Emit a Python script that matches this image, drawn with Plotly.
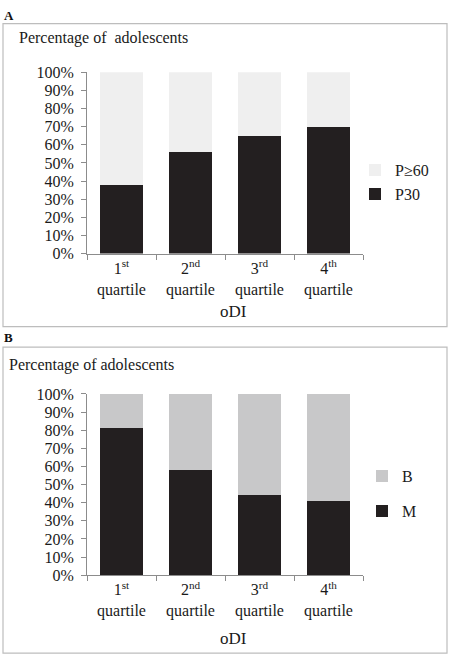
import plotly.graph_objects as go

categories = ["1<sup>st</sup><br>quartile", "2<sup>nd</sup><br>quartile",
              "3<sup>rd</sup><br>quartile", "4<sup>th</sup><br>quartile"]
a_p30 = [38, 56, 65, 70]
a_p60 = [62, 44, 35, 30]
b_m = [81, 58, 44, 41]
b_b = [19, 42, 56, 59]
y_ticks = [0, 10, 20, 30, 40, 50, 60, 70, 80, 90, 100]

W, H = 450, 666
DARK = "#231f20"
FONT = "Liberation Serif"
TXT = "#1a1a1a"

fig = go.Figure()
fig.add_trace(go.Bar(x=categories, y=a_p30, name="P30", marker=dict(color=DARK, line=dict(width=0)),
                     xaxis="x", yaxis="y", legend="legend", legendgroup="a1", legendrank=2))
fig.add_trace(go.Bar(x=categories, y=a_p60, name="P≥60", marker=dict(color="#efefef", line=dict(width=0)),
                     xaxis="x", yaxis="y", legend="legend", legendgroup="a2", legendrank=1))
fig.add_trace(go.Bar(x=categories, y=b_m, name="M", marker=dict(color=DARK, line=dict(width=0)),
                     xaxis="x2", yaxis="y2", legend="legend2", legendgroup="b1", legendrank=2))
fig.add_trace(go.Bar(x=categories, y=b_b, name="B", marker=dict(color="#c8c8c9", line=dict(width=0)),
                     xaxis="x2", yaxis="y2", legend="legend2", legendgroup="b2", legendrank=1))

def px_x(v):
    return v / W

def px_y(v):
    return 1 - v / H

xdom = [px_x(87), px_x(363)]
axis_common = dict(showline=True, linecolor="#8c8c8c", linewidth=1, ticks="outside",
                   tickcolor="#8c8c8c", ticklen=5, tickfont=dict(family=FONT, size=16, color=TXT),
                   showgrid=False, zeroline=False, fixedrange=True)
xcommon = dict(axis_common, tickson="boundaries")
ycommon = dict(axis_common, range=[0, 100], tickvals=y_ticks,
               ticktext=[f"{v}%" for v in y_ticks], ticklabelstandoff=4)

legend_common = dict(font=dict(family=FONT, size=16, color=TXT), bgcolor="rgba(0,0,0,0)",
                     traceorder="grouped", xanchor="left", yanchor="top",
                     itemwidth=30, itemclick=False)

fig.update_layout(
    width=W, height=H, margin=dict(l=0, r=0, t=0, b=0),
    paper_bgcolor="white", plot_bgcolor="white",
    barmode="stack", bargap=0.375,
    xaxis=dict(xcommon, domain=xdom, anchor="y"),
    yaxis=dict(ycommon, domain=[px_y(252), px_y(66)], anchor="x"),
    xaxis2=dict(xcommon, domain=xdom, anchor="y2"),
    yaxis2=dict(ycommon, domain=[px_y(582), px_y(396)], anchor="x2"),
    legend=dict(legend_common, x=px_x(355), y=px_y(149), tracegroupgap=0),
    legend2=dict(legend_common, x=px_x(362), y=px_y(463), tracegroupgap=11),
    shapes=[
        dict(type="rect", xref="paper", yref="paper", x0=px_x(3), x1=px_x(447),
             y0=px_y(327), y1=px_y(16), line=dict(color="#bdbdbd", width=1.2), layer="below"),
        dict(type="rect", xref="paper", yref="paper", x0=px_x(3), x1=px_x(447),
             y0=px_y(662), y1=px_y(348), line=dict(color="#bdbdbd", width=1.2), layer="below"),
    ],
    annotations=[
        dict(text="<b>A</b>", xref="paper", yref="paper", x=px_x(2), y=px_y(8), xanchor="left",
             yanchor="middle", showarrow=False, font=dict(family=FONT, size=13, color="#111")),
        dict(text="Percentage of  adolescents", xref="paper", yref="paper", x=px_x(17), y=px_y(31),
             xanchor="left", yanchor="middle", showarrow=False, font=dict(family=FONT, size=16, color=TXT)),
        dict(text="oDI", xref="paper", yref="paper", x=px_x(233), y=px_y(311),
             xanchor="center", yanchor="middle", showarrow=False, font=dict(family=FONT, size=17, color=TXT)),
        dict(text="<b>B</b>", xref="paper", yref="paper", x=px_x(2), y=px_y(338), xanchor="left",
             yanchor="middle", showarrow=False, font=dict(family=FONT, size=13, color="#111")),
        dict(text="Percentage of adolescents", xref="paper", yref="paper", x=px_x(7), y=px_y(366),
             xanchor="left", yanchor="middle", showarrow=False, font=dict(family=FONT, size=16, color=TXT)),
        dict(text="oDI", xref="paper", yref="paper", x=px_x(233), y=px_y(647),
             xanchor="center", yanchor="middle", showarrow=False, font=dict(family=FONT, size=17, color=TXT)),
    ],
)

fig.write_html("out.html", config={"displayModeBar": False},
               post_script="document.body.style.margin='0';document.body.style.overflow='hidden';")
